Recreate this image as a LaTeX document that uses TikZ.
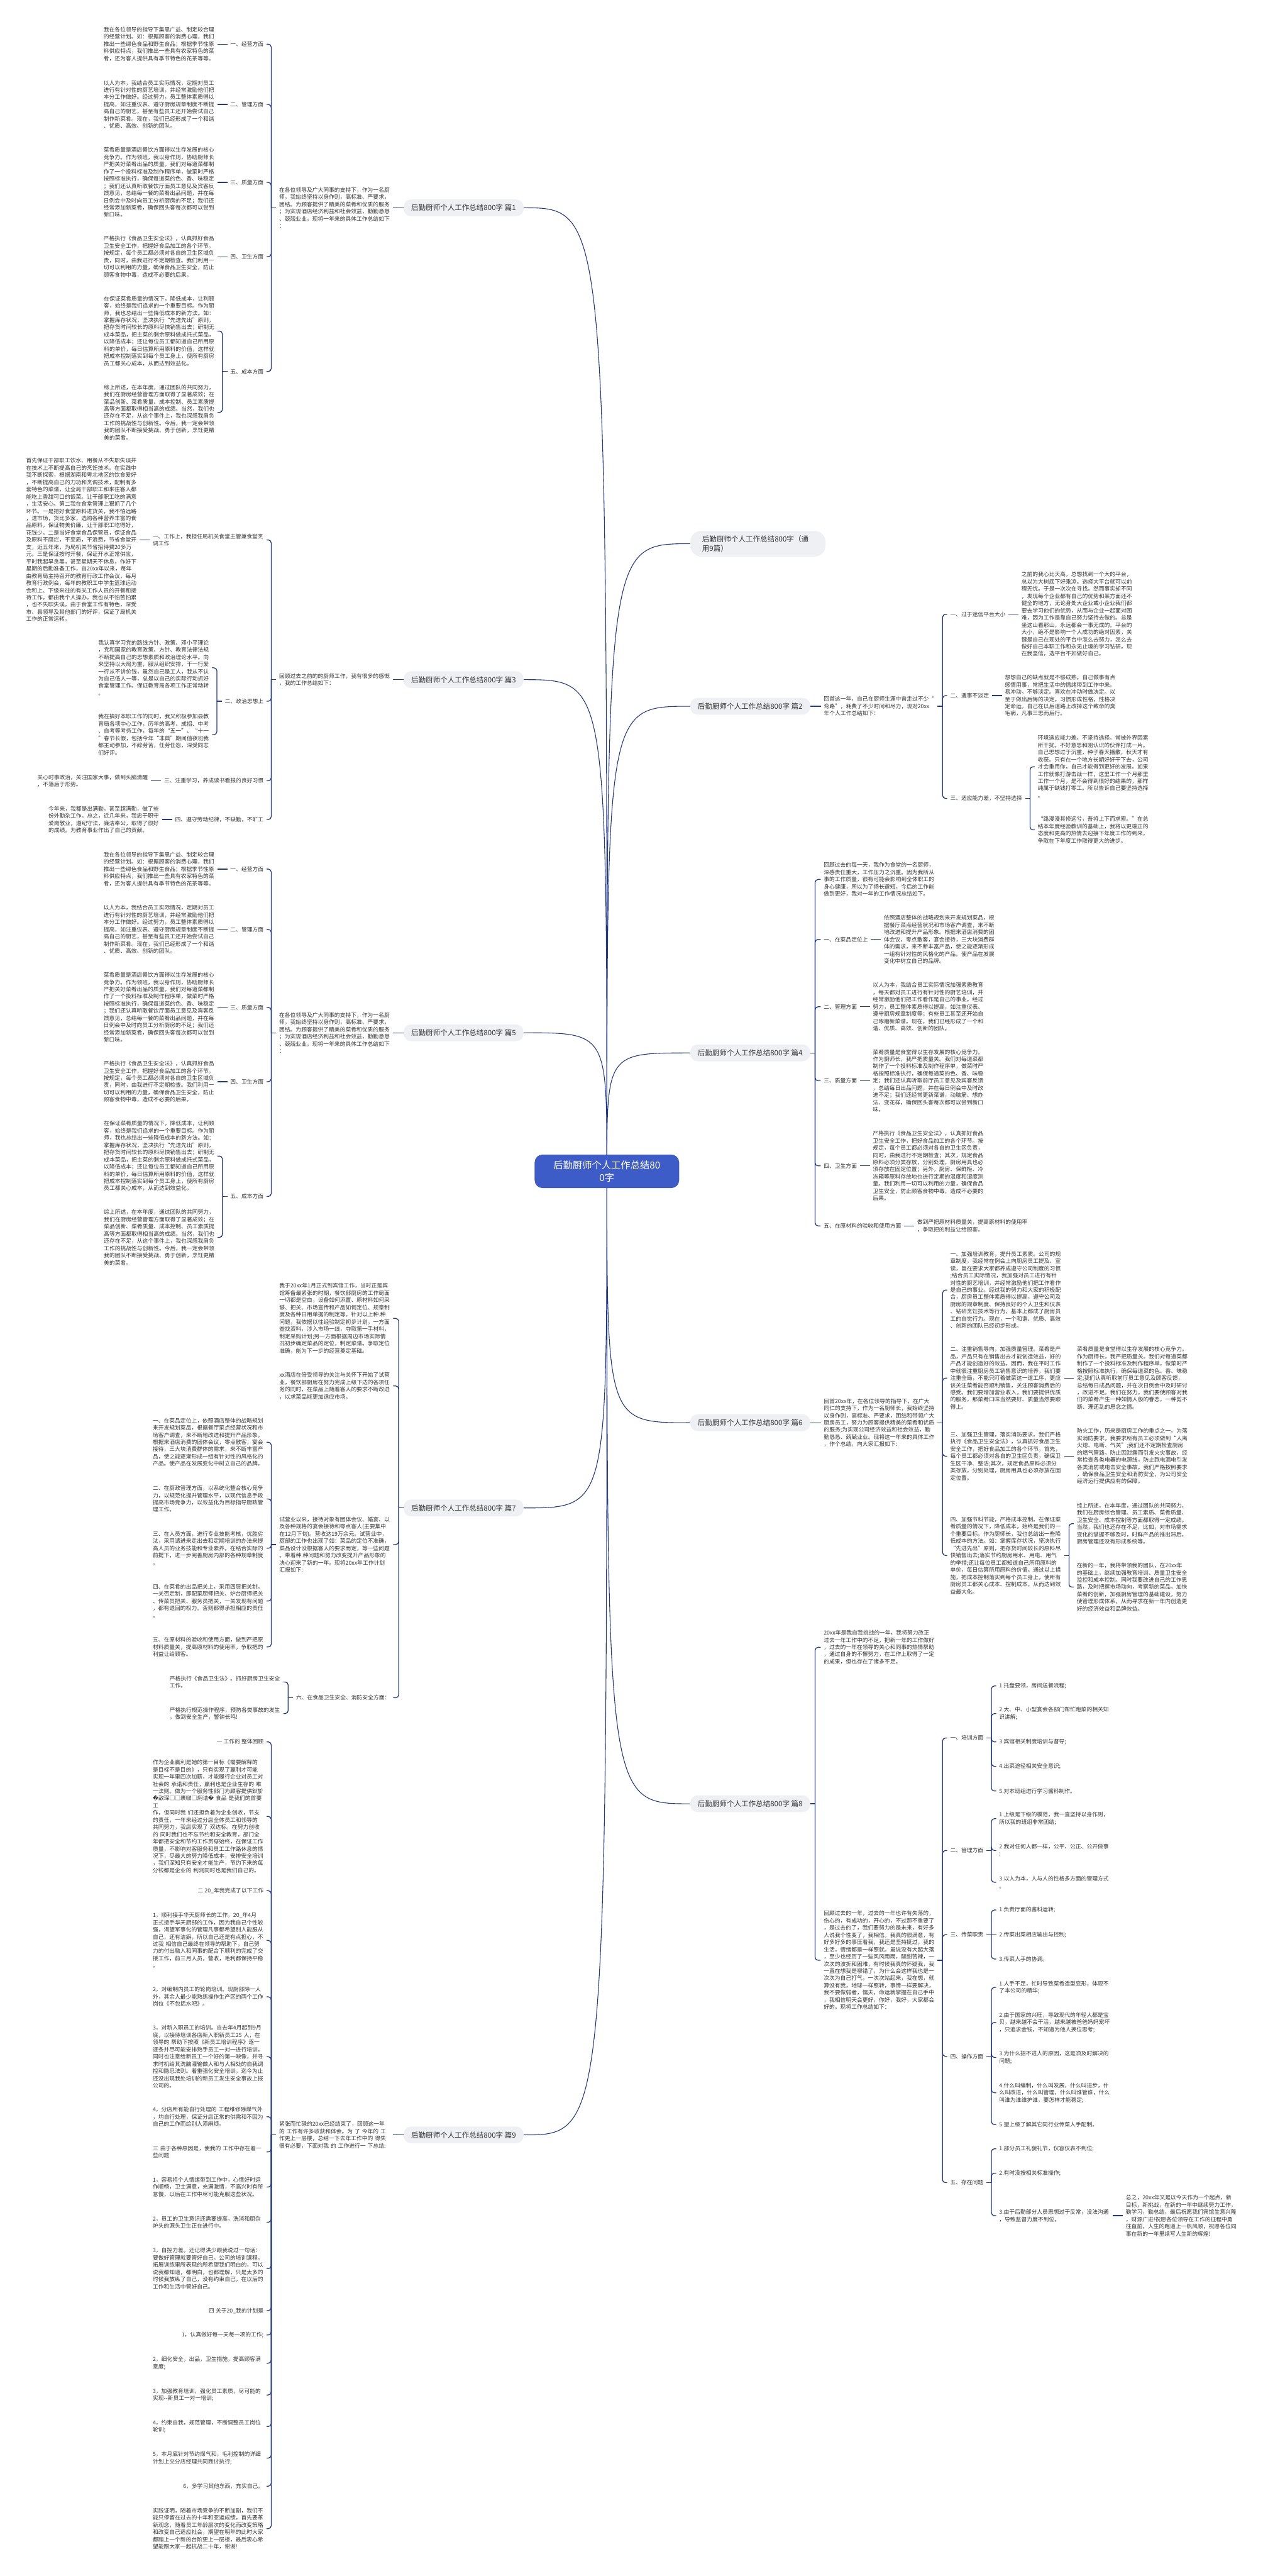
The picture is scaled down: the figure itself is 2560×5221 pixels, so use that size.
\documentclass[tikz,border=0pt]{standalone}
\usepackage{fontspec}
\setmainfont{Noto Sans CJK SC}
\newfontfamily\dejavu{DejaVu Sans}
\usetikzlibrary{positioning}

% allow a line break between any two CJK characters
\XeTeXinterchartokenstate=1
\newXeTeXintercharclass\cjkcls
\newcount\cjkcnt
\newcommand\cjkrange[2]{%
  \cjkcnt=#1\relax
  \loop
    \XeTeXcharclass\cjkcnt=\cjkcls
    \advance\cjkcnt by 1\relax
  \ifnum\cjkcnt<#2\relax
  \repeat}
\cjkrange{"2018}{"201E}
\cjkrange{"25A0}{"25A2}
\cjkrange{"3000}{"3040}
\cjkrange{"4E00}{"A000}
\cjkrange{"FF00}{"FFF0}
\XeTeXinterchartoks\cjkcls\cjkcls={\penalty0\relax}
\XeTeXinterchartoks 0 \cjkcls={\penalty0\relax}
\XeTeXinterchartoks\cjkcls 0 ={\penalty0\relax}

\definecolor{linkblue}{HTML}{22398A}
\definecolor{rootblue}{HTML}{3D5CC8}
\definecolor{topicgray}{HTML}{EEF0F4}
\definecolor{inkgray}{HTML}{333333}

\pgfdeclarelayer{bg}
\pgfsetlayers{bg,main}

\newcommand\fsbody{\fontsize{11.2pt}{14.6pt}\selectfont}
\newcommand\fstopic{\fontsize{14.7pt}{19pt}\selectfont}
\newcommand\fsroot{\fontsize{19.5pt}{26pt}\selectfont}

% connectors: stub out of the parent, then one elbow per child
\newcommand\lstub[1]{\draw[link] (#1.west) -- ++(-10pt,0);}
\newcommand\rstub[1]{\draw[link] (#1.east) -- ++(10pt,0);}
\newcommand\lk[2]{\draw[link] ([xshift=-10pt]#1.west) |- (#2.east);}
\newcommand\rk[2]{\draw[link] ([xshift=10pt]#1.east) |- (#2.west);}
\newcommand\lone[2]{\draw[link] (#1.west) -- (#2.east);}
\newcommand\rone[2]{\draw[link] (#1.east) -- (#2.west);}

% Pian 1 and Pian 5 carry the same text
\newcommand\paione[3]{%
\begin{scope}[shift={(0,#3)}]
  \node[topic] (#1t) at (940,421.2) {后勤厨师个人工作总结800字 #2};
  \node[body, left=21.5pt of #1t] (#1i) {在各位领导及广大同事的支持下，作为一名厨师，我始终坚持以身作则，高标准、严要求，团结。为顾客提供了精美的菜肴和优质的服务；为实现酒店经济利益和社会效益，勤勤恳恳、兢兢业业。现将一年来的具体工作总结如下：};
  \node[lbl, anchor=east] (#1a1) at (540.5,89.4) {一、经营方面};
  \node[lbl, anchor=east] (#1a2) at (540.5,211.7) {二、管理方面};
  \node[lbl, anchor=east] (#1a3) at (540.5,369.7) {三、质量方面};
  \node[lbl, anchor=east] (#1a4) at (540.5,520.3) {四、卫生方面};
  \node[lbl, anchor=east] (#1a5) at (540.5,753) {五、成本方面};
  \node[body, left=20pt of #1a1] (#1b1) {我在各位领导的指导下集思广益、制定较合理的经营计划。如：根据顾客的消费心理，我们推出一些绿色食品和野生食品；根据季节性原料供应特点，我们推出一些具有农家特色的菜肴，还为客人提供具有季节特色的花茶等等。};
  \node[body, left=20pt of #1a2] (#1b2) {以人为本，我结合员工实际情况，定期对员工进行有针对性的厨艺培训，并经常激励他们把本分工作做好。经过努力，员工整体素质得以提高，如注重仪表、遵守厨房规章制度不断提高自己的厨艺，甚至有些员工还开始尝试自己制作新菜肴。现在，我们已经形成了一个和谐、优质、高效、创新的团队。};
  \node[body, left=20pt of #1a3] (#1b3) {菜肴质量是酒店餐饮方面得以生存发展的核心竞争力。作为领班，我以身作则，协助厨师长严把关好菜肴出品的质量。我们对每道菜都制作了一个投料标准及制作程序单，做菜时严格按照标准执行，确保每道菜的色、香、味稳定；我们还认真听取餐饮厅面员工意见及宾客反馈意见，总结每一餐的菜肴出品问题，并在每日例会中及时向员工分析厨房的不足；我们还经常添加新菜肴，确保回头客每次都可以尝到新口味。};
  \node[body, left=20pt of #1a4] (#1b4) {严格执行《食品卫生安全法》，认真抓好食品卫生安全工作，把握好食品加工的各个环节。按规定，每个员工都必须对各自的卫生区域负责，同时，由我进行不定期检查。我们利用一切可以利用的力量，确保食品卫生安全，防止顾客食物中毒，造成不必要的后果。};
  \node[body, anchor=east] (#1b5a) at (441.3,671) {在保证菜肴质量的情况下，降低成本，让利顾客，始终是我们追求的一个重要目标。作为厨师，我也总结出一些降低成本的新方法。如：掌握库存状况，坚决执行“先进先出”原则，把存货时间较长的原料尽快销售出去；研制无成本菜品，把主菜的剩余原料做成托式菜品，以降低成本；还让每位员工都知道自己所用原料的单价，每日估算所用原料的价值，这样就把成本控制落实到每个员工身上，使所有厨房员工都关心成本，从而达到效益化。};
  \node[body, anchor=east] (#1b5b) at (441.3,836) {综上所述，在本年度，通过团队的共同努力，我们在厨房经营管理方面取得了显著成效；在菜品创新、菜肴质量、成本控制、员工素质提高等方面都取得相当高的成绩。当然，我们也还存在不足，从这个事件上，我也深感我肩负工作的挑战性与创新性。今后，我一定会带领我的团队不断接受挑战、勇于创新，烹饪更精美的菜肴。};
  \lone{#1t}{#1i}
  \lstub{#1i}
  \lk{#1i}{#1a1} \lk{#1i}{#1a2} \lk{#1i}{#1a3} \lk{#1i}{#1a4} \lk{#1i}{#1a5}
  \lone{#1a1}{#1b1} \lone{#1a2}{#1b2} \lone{#1a3}{#1b3} \lone{#1a4}{#1b4}
  \lstub{#1a5} \lk{#1a5}{#1b5a} \lk{#1a5}{#1b5b}
\end{scope}}

\begin{document}
\begin{tikzpicture}[x=1pt, y=-1pt,
  every node/.style={text=inkgray, font=\fsbody},
  body/.style={text width=224.5pt, align=left, inner xsep=6pt, inner ysep=2pt},
  lbl/.style={inner xsep=6pt, inner ysep=2pt},
  topic/.style={fill=topicgray, rounded corners=15pt, minimum width=243pt,
    minimum height=34pt, inner xsep=8pt, font=\fstopic},
  root/.style={fill=rootblue, text=white, rounded corners=16pt, text width=220pt,
    align=center, inner xsep=36.5pt, inner ysep=12pt, font=\fsroot},
  link/.style={draw=linkblue, line width=1.6pt, rounded corners=6pt},
  curve/.style={draw=linkblue, line width=1.4pt}]

  \begin{pgfonlayer}{bg}
    \fill[white] (0,0) rectangle (2560,5221);
  \end{pgfonlayer}
  \useasboundingbox (0,0) rectangle (2560,5221);

  % Centre
  \node[root] (root) at (1230.5,2374) {后勤厨师个人工作总结80\\0字};

  % Pian 1 and Pian 5
  \paione{p1}{篇1}{0}
  \paione{p5}{篇5}{1672}

  % Pian 3
  \node[topic] (p3t) at (940,1377.5) {后勤厨师个人工作总结800字 篇3};
  \node[body, left=21.5pt of p3t] (p3i) {回顾过去之前的的厨师工作，我有很多的感慨，我的工作总结如下：};
  \node[body, anchor=east] (p3g1) at (540.5,1094.3) {一、工作上，我担任局机关食堂主管兼食堂烹调工作};
  \node[lbl, anchor=east] (p3g2) at (540.5,1421.3) {二、政治思想上};
  \node[lbl, anchor=east] (p3g3) at (540.5,1582.5) {三、注重学习，养成读书看报的良好习惯};
  \node[lbl, anchor=east] (p3g4) at (540.5,1661) {四、遵守劳动纪律，不缺勤，不旷工};
  \node[body, left=20pt of p3g1] (p3h1) {首先保证干部职工饮水、用餐从不失职失误并在技术上不断提高自己的烹饪技术。在实践中我不断探索，根据湖南和粤北地区的饮食爱好，不断提高自己的刀功和烹调技术，配制有多套特色的菜谱，让全局干部职工和来往客人都能吃上香甜可口的饭菜。让干部职工吃的满意，生活安心。第二我在食堂管理上狠抓了几个环节。一是把好食堂原料进货关，我不怕远路，进市场，货比多家，选购各种营养丰富的食品原料，保证物美价廉，让干部职工吃得好，花钱少。二是当好食堂食品保管员，保证食品及原料不腐烂，不变质，不浪费，节省食堂开支，近五年来，为局机关节省招待费20多万元。三是保证按时开餐，保证开水正常供应，平时我起早贪黑，甚至星期天不休息，作好下星期的后勤准备工作，自20xx年以来，每年由教育局主持召开的教育行政工作会议，每月教育行政例会，每年的教职工中学生篮球运动会和上、下级来往的有关工作人员的开餐和接待工作，都由我个人操办。我也从不怕苦怕累，也不失职失误。由于食堂工作有特色，深受市、县领导及其他部门的好评，保证了局机关工作的正常运转。};
  \node[body, anchor=east] (p3h2a) at (430.1,1353.5) {我认真学习党的路线方针、政策、邓小平理论，党和国家的教育政策、方针、教育法律法规不断提高自己的思想素质和政治理论水平。向来坚持以大局为重，服从组织安排，干一行爱一行从不讲价钱，虽然自己是工人，我从不认为自己低人一等，总是以自己的实际行动抓好食堂管理工作。保证教育局各项工作正常动转。};
  \node[body, anchor=east] (p3h2b) at (430.1,1489) {我在搞好本职工作的同时，我又积极参加县教育局各项中心工作，历年的高考、成招、中考、自考等考务工作，每年的“五一”、“十一”春节长假，包括今年“非典”期间值夜班我都主动参加，不辞劳苦，任劳任怨，深受同志们好评。};
  \node[body, left=20pt of p3g3] (p3h3) {关心时事政治，关注国家大事，做到头脑清醒，不落后于形势。};
  \node[body, left=20pt of p3g4] (p3h4) {今年来，我都是出满勤，甚至超满勤，做了些份外勤杂工作。总之，近几年来，我忠于职守爱岗敬业，遵纪守法，廉洁奉公，取得了很好的成绩。为教育事业作出了自己的贡献。};
  \lone{p3t}{p3i}
  \lstub{p3i}
  \lk{p3i}{p3g1} \lk{p3i}{p3g2} \lk{p3i}{p3g3} \lk{p3i}{p3g4}
  \lone{p3g1}{p3h1} \lone{p3g3}{p3h3} \lone{p3g4}{p3h4}
  \lstub{p3g2} \lk{p3g2}{p3h2a} \lk{p3g2}{p3h2b}

  % Pian 7
  \node[topic] (p7t) at (940,3056.3) {后勤厨师个人工作总结800字 篇7};
  \node[body, anchor=east] (p7k1) at (797,2672) {我于20xx年1月正式到宾馆工作，当时正是宾馆筹备最紧张的时期，餐饮部厨房的工作局面一切都是空白，设备如何添置、原材料如何采够、把关、市场宣传和产品如何定位、规章制度及各种日用单据的制定等。针对以上种.种问题，我依据以往经验制定初步计划，一方面查找资料，涉入市场一线，夺取第一手材料，制定采购计划;另一方面根据周边市场实际情况初步确定菜品的定位，制定菜谱。争取定位准确，能为下一步的经营奠定基础。};
  \node[body, anchor=east] (p7k2) at (797,2809) {xx酒店在倍受领导的关注与关怀下开始了试营业，餐饮部厨房在努力完成上级下达的各项任务的同时，在菜品上随着客人的要求不断改进，以求菜品能更加适应市场。};
  \node[body, anchor=east] (p7k3) at (797,3130.5) {试营业以来，接待对象有团体会议、婚宴、以及各种规格的宴会接待和零点客人(主要集中在12月下旬)。营收达19万余元。试营业中，厨部的工作也出现了如：菜品的定位不准确，菜品设计没根据客人的要求而定，等一些问题。带着种.种问题和努力改变提升产品形象的决心迎来了新的一年。现将20xx年工作计划汇报如下:};
  \node[lbl, anchor=east] (p7k4) at (797,3441) {六、在食品卫生安全、消防安全方面：};
  \node[body, anchor=east] (p7m1) at (540.5,2923) {一、在菜品定位上，依照酒店整体的战略规划来开发规划菜品，根据餐厅菜点经营状况和市场客户调查，来不断地改进和提升产品形象。根据来酒店消费的团体会议，零点散客，宴会接待，三大块消费群体的需求，来不断丰富产品，使之能逐渐形成一组有针对性的风格化的产品。使产品在发展变化中树立自己的品牌。};
  \node[body, anchor=east] (p7m2) at (540.5,3038) {二、在厨政管理方面，以系统化整合核心竞争力，以规范化提升管理水平，以现代信息手段提高市场竞争力，以效益化为目标指导厨政管理工作。};
  \node[body, anchor=east] (p7m3) at (540.5,3138) {三、在人员方面，进行专业技能考核，优胜劣汰，采用请进来走出去和定期培训的办法来提高人员的业务技能和专业素养。在结合实际的前提下，进一步完善厨房内部的各种规章制度。};
  \node[body, anchor=east] (p7m4) at (540.5,3245) {四、在菜肴的出品把关上，采用四层把关制，一关否定制，即配菜厨师把关、炉台厨师把关、传菜员把关、服务员把关，一关发现有问题，都有退回的权力。否则都得承担相应的责任。};
  \node[body, anchor=east] (p7m5) at (540.5,3338) {五、在原材料的验收和使用方面，做到严把原材料质量关，提高原材料的使用率，争取把的利益让给顾客。};
  \node[body, anchor=east] (p7n1) at (574.6,3409) {严格执行《食品卫生法》。抓好厨房卫生安全工作。};
  \node[body, anchor=east] (p7n2) at (574.6,3473) {严格执行规范操作程序，预防各类事故的发生，做到安全生产，警钟长鸣!};
  \lstub{p7t}
  \lk{p7t}{p7k1} \lk{p7t}{p7k2} \lk{p7t}{p7k3} \lk{p7t}{p7k4}
  \lstub{p7k3}
  \lk{p7k3}{p7m1} \lk{p7k3}{p7m2} \lk{p7k3}{p7m3} \lk{p7k3}{p7m4} \lk{p7k3}{p7m5}
  \lstub{p7k4} \lk{p7k4}{p7n1} \lk{p7k4}{p7n2}

  % Pian 9
  \node[topic] (p9t) at (940,4327) {后勤厨师个人工作总结800字 篇9};
  \node[body, left=21.5pt of p9t] (p9i) {紧张而忙碌的20xx已经结束了，回顾这一年\\的 工作有许多收获和体会。为 了 今年的 工\\作更上一层楼，总结一下去年工作中的 得失\\很有必要，下面对我 的 工作进行一 下总结:};
  \node[lbl, anchor=east] (p9q1) at (540.5,3530.3) {一 工作的 整体回顾};
  \node[body, anchor=east] (p9q2) at (540.5,3681.4) {作为企业赢利是她的第一目标《需要解释的\\是目标不是目的》，只有实现了赢利才可能\\实现一年里四次加薪，才能履行企业对员工对\\社会的 承诺和责任，赢利也是企业生存的 唯\\一法则。做为一个服务性部门为顾客提供鈥斺\\{\dejavu �}敌琛□□裹啵□焖诘{\dejavu �} 食品 是我们的首要工\\作，但同时我 们还担负着为企业创收，节支\\的责任，一年来经过分店全体员工和领导的\\共同努力，我店实现了 双达标。在努力创收\\的 同时我们也不忘节约和安全教育，部门全\\年都把安全和节约工作贯穿始终，在保证工作\\质量，不影响对客服务和员工工作路休息的情\\况下，尽最大的努力降低成本，安排安全培训\\，我们深知只有安全才能生产，节约下来的每\\分钱都是企业的 利润同时也是我们自己的。};
  \node[lbl, anchor=east] (p9q3) at (540.5,3832) {二 20\_年我完成了以下工作};
  \node[body, anchor=east] (p9q4) at (540.5,3932.7) {1，顺利接手华天厨师长的工作。20\_年4月\\正式接手华天厨部的工作，因为我自己个性较\\强，渴望军事化的管理凡事都希望别人能服从\\自己，还有洁癖，所以自己还是有点担心，不\\过我 相信自己最终在领导的帮助下，自己努\\力的付出融入和同事的配合下顺利的完成了交\\接工作，前三月人员，营收，毛利都保持平稳\\。};
  \node[body, anchor=east] (p9q5) at (540.5,4047) {2，对编制内员工的轮岗培训。现厨部除一人外，其余人最少能熟练操作生产区的两个工作岗位《不包括水吧》。};
  \node[body, anchor=east] (p9q6) at (540.5,4168.5) {3，对新入职员工的培训。自去年4月起到9月\\底，以接待培训各店新入职新员工25 人，在\\领导的 帮助下按照《新员工培训程序》逐一\\逐条并尽可能安排熟手员工一对一进行培训，\\同时也注意给新员工一个好的第一映像，并寻\\求时机给其洗脑灌输做人和与人相处的自我调\\控和隐忍法则。着重强化安全培训，迄今为止\\还没出现我处培训的新员工发生安全事故上报\\公司的。};
  \node[body, anchor=east] (p9q7) at (540.5,4290) {4，分店所有能自行处理的 工程维修除煤气外\\，均自行处理，保证分店正常的供需和不因为\\自己的工作而给别人添麻烦。};
  \node[body, anchor=east] (p9q8) at (540.5,4361.4) {三 由于各种原因是，使我的 工作中存在着一\\些问题};
  \node[body, anchor=east] (p9q9) at (540.5,4432.7) {1，容易将个人情绪带到工作中，心情好时运作顺畅，卫士满意，充满激情，不高兴时有所怠慢，以后在工作中尽可能克服这些状况。};
  \node[body, anchor=east] (p9q10) at (540.5,4504) {2，员工的卫生意识还需要提高，洗消和厨杂炉头的源头卫生正在进行中。};
  \node[body, anchor=east] (p9q11) at (540.5,4598) {3，自控力差。还记得洪少跟我说过一句话：要做好管理就要管好自己。公司的培训课程，拓展训练里所表现的所希望我们明白的，可以说我都知道，都明白，也都理解，只是太多的时候我放纵了自己，没有约束自己，在以后的工作和生活中管好自己。};
  \node[lbl, anchor=east] (p9q12) at (540.5,4683) {四 关于20\_我的计划是};
  \node[lbl, anchor=east] (p9q13) at (540.5,4732.5) {1，认真做好每一天每一项的工作;};
  \node[body, anchor=east] (p9q14) at (540.5,4789.7) {2，细化安全，出品，卫生措施，提高顾客满意度;};
  \node[body, anchor=east] (p9q15) at (540.5,4854) {3，加强教育培训，强化员工素质，尽可能的实现-{}-新员工一对一培训;};
  \node[body, anchor=east] (p9q16) at (540.5,4918) {4，约束自我，规范管理，不断调整员工岗位轮训;};
  \node[body, anchor=east] (p9q17) at (540.5,4982) {5，本月底针对节约煤气和，毛利控制的详细计划上交分店经理共同商讨执行;};
  \node[lbl, anchor=east] (p9q18) at (540.5,5039) {6，多学习其他东西，充实自己。};
  \node[body, anchor=east] (p9q19) at (540.5,5125) {实践证明，随着市场竞争的不断加剧，我们不能只停留在过去的十年和亚运成绩，首先要革新观念，随着员工年龄层次的变化而改变策略和改变自己适应社会，期望在明年的此时大家都踏上一个新的台阶更上一层楼，最后衷心希望能跟大家一起抗战二十年，谢谢!};
  \lone{p9t}{p9i}
  \lstub{p9i}
  \lk{p9i}{p9q1} \lk{p9i}{p9q2} \lk{p9i}{p9q3} \lk{p9i}{p9q4} \lk{p9i}{p9q5}
  \lk{p9i}{p9q6} \lk{p9i}{p9q7} \lk{p9i}{p9q8} \lk{p9i}{p9q9} \lk{p9i}{p9q10}
  \lk{p9i}{p9q11} \lk{p9i}{p9q12} \lk{p9i}{p9q13} \lk{p9i}{p9q14} \lk{p9i}{p9q15}
  \lk{p9i}{p9q16} \lk{p9i}{p9q17} \lk{p9i}{p9q18} \lk{p9i}{p9q19}

  % Tong yong 9 pian
  \node[topic, anchor=west, text width=226pt, inner xsep=24pt, minimum height=52pt,
    rounded corners=22pt, align=left] (pg) at (1399.5,1102) {后勤厨师个人工作总结800字（通\\用9篇）};

  % Pian 2
  \node[topic] (p2t) at (1521,1431.5) {后勤厨师个人工作总结800字 篇2};
  \node[body, right=21.5pt of p2t] (p2i) {回首这一年，自己在厨师生涯中曾走过不少“弯路”，耗费了不少时间和尽力，现对20xx年个人工作总结如下：};
  \node[lbl, anchor=west] (p2a) at (1920.5,1245) {一、过于迷信平台大小};
  \node[lbl, anchor=west] (p2b) at (1920.5,1409.8) {二、遇事不淡定};
  \node[lbl, anchor=west] (p2c) at (1920.5,1618.3) {三、适应能力差，不坚持选择};
  \node[body, right=20pt of p2a] (p2at) {之前的我心比天高，总想找到一个大的平台，总以为大树底下好乘凉。选择大平台就可以前程无忧。于是一次次在寻找。然而事实却不同，发现每个企业都有自己的优势和某方面还不健全的地方，无论身处大企业或小企业我们都要去学习他们的优势，从而与企业一起面对困难，因为工作是靠自己努力坚持去做的。总是坐这山看那山，永远都会一事无成的。平台的大小，绝不是影响一个人成功的绝对因素，关键是自己在现处的平台中怎么去努力，怎么去做好自己本职工作和永无止境的学习钻研。现在我坚信，选平台不如做好自己。};
  \node[body, right=20pt of p2b] (p2bt) {想想自己的缺点就是不够成熟。自己做事有点感情用事，常把生活中的情绪带到工作中来。易冲动，不够淡定。喜欢在冲动时做决定。以至于做出后悔的决定。习惯形成性格，性格决定命运。自己在以后道路上改掉这个致命的臭毛病，凡事三思而后行。};
  \node[body, anchor=west] (p2c1) at (2098.1,1554) {环境适应能力差。不坚持选择。常被外界因素所干扰。不好意思和刚认识的伙伴打成一片。自己思想过于沉重，种子春天播散，秋天才有收获。只有在一个地方长期好好干下去，公司才会重用你，自己才能得到更好的发展。如果工作就像打游击战一样，这里工作一个月那里工作一个月，是不会得到很好的结果的，那样纯属于缺钱打零工。所以告诉自己要坚持选择。};
  \node[body, anchor=west] (p2c2) at (2098.1,1682) {“路漫漫其修远兮，吾将上下而求索。”在总结本年度经验教训的基础上，我将以更端正的态度和更高的热情去迎接下年度工作的到来，争取在下年度工作取得更大的进步。};
  \rone{p2t}{p2i}
  \rstub{p2i}
  \rk{p2i}{p2a} \rk{p2i}{p2b} \rk{p2i}{p2c}
  \rone{p2a}{p2at} \rone{p2b}{p2bt}
  \rstub{p2c} \rk{p2c}{p2c1} \rk{p2c}{p2c2}

  % Pian 4
  \node[topic] (p4t) at (1521,2134) {后勤厨师个人工作总结800字 篇4};
  \node[body, anchor=west] (p4d0) at (1664,1782.4) {回顾过去的每一天，我作为食堂的一名厨师，深感责任重大，工作压力之沉重。因为我所从事的工作质量，很有可能会影响到全体职工的身心健康，所以为了扬长避短，今后的工作能做到更好，我对一年的工作情况总结如下。};
  \node[lbl, anchor=west] (p4d1) at (1664,1904) {一、在菜品定位上};
  \node[lbl, anchor=west] (p4d2) at (1664,2040.4) {二、管理方面};
  \node[lbl, anchor=west] (p4d3) at (1664,2190.5) {三、质量方面};
  \node[lbl, anchor=west] (p4d4) at (1664,2363) {四、卫生方面};
  \node[lbl, anchor=west] (p4d5) at (1664,2484.5) {五、在原材料的验收和使用方面};
  \node[body, right=20pt of p4d1] (p4e1) {依照酒店整体的战略规划来开发规划菜品，根据餐厅菜点经营状况和市场客户调查，来不断地改进和提升产品形象。根据来酒店消费的团体会议，零点散客，宴会接待，三大块消费群体的需求，来不断丰富产品，使之能逐渐形成一组有针对性的风格化的产品。使产品在发展变化中树立自己的品牌。};
  \node[body, right=20pt of p4d2] (p4e2) {以人为本，我结合员工实际情况加强素质教育，每天都对员工进行有针对性的厨艺培训，并经常激励他们把工作看作是自己的事业。经过努力，员工整体素质得以提高，如注重仪表、遵守厨房规章制度等；有些员工甚至还开始自己琢磨新菜谱。现在，我们已经形成了一个和谐、优质、高效、创新的团队。};
  \node[body, right=20pt of p4d3] (p4e3) {菜肴质量是食堂得以生存发展的核心竞争力。作为厨师长，我严把质量关。我们对每道菜都制作了一个投料标准及制作程序单，做菜时严格按照标准执行，确保每道菜的色、香、味稳定；我们还认真听取前厅员工意见及宾客反馈，总结每日出品问题，并在每日例会中及时改进不足；我们还经常更新菜谱，动脑筋、想办法、变花样，确保回头客每次都可以尝到新口味。};
  \node[body, right=20pt of p4d4] (p4e4) {严格执行《食品卫生安全法》，认真抓好食品卫生安全工作，把好食品加工的各个环节。按规定，每个员工都必须对各自的卫生区负责，同时，由我进行不定期检查；其次，规定食品原料必须分类存放，分别处理，厨房用具也必须存放在固定位置；另外，厨房、保鲜柜、冷冻箱等原料存放地也进行定期的温度和湿度测量。我们利用一切可以利用的力量，确保食品卫生安全，防止顾客食物中毒，造成不必要的后果。};
  \node[body, right=20pt of p4d5] (p4e5) {做到严把原材料质量关，提高原材料的使用率，争取把的利益让给顾客。};
  \rstub{p4t}
  \rk{p4t}{p4d0} \rk{p4t}{p4d1} \rk{p4t}{p4d2} \rk{p4t}{p4d3} \rk{p4t}{p4d4} \rk{p4t}{p4d5}
  \rone{p4d1}{p4e1} \rone{p4d2}{p4e2} \rone{p4d3}{p4e3} \rone{p4d4}{p4e4} \rone{p4d5}{p4e5}

  % Pian 6
  \node[topic] (p6t) at (1521,2883.5) {后勤厨师个人工作总结800字 篇6};
  \node[body, right=21.5pt of p6t] (p6i) {回首20xx年，在各位领导的指导下，在广大同仁的支持下，作为一名厨师长，我始终坚持以身作则，高标准、严要求，团结和带领广大厨房员工，努力为顾客提供精美的菜肴和优质的服务;为实现公司经济效益和社会效益，勤勤恳恳、兢兢业业。现将这一年来的具体工作，作个总结，向大家汇报如下:};
  \node[body, anchor=west] (p6a) at (1920.5,2614.5) {一、加强培训教育，提升员工素质。公司的规章制度，我经常在例会上向厨房员工提及、宣读，旨在要求大家都养成遵守公司制度的习惯;结合员工实际情况，我加强对员工进行有针对性的厨艺培训，并经常激励他们把工作看作是自己的事业。经过我的努力和大家的积极配合，厨房员工整体素质得以提高，遵守公司及厨房的规章制度、保持良好的个人卫生和仪表、钻研烹饪技术等行为，基本上都成了厨房员工的自觉行为。现在，一个和谐、优质、高效、创新的团队已经初步形成。};
  \node[body, anchor=west] (p6b) at (1920.5,2793) {二、注重销售导向，加强质量管理。菜肴是产品，产品只有在销售出去才能创造效益，好的产品才能创造好的效益。因而，我在平时工作中就很注重厨房员工销售意识的培养，我们要注重全局，不能只盯着做菜这一道工序，更应该关注菜肴能否顺利销售，关注顾客消费后的感受。我们要增加营业收入，我们要提供优质的服务，那菜肴口味当然要好、质量当然要跟得上。};
  \node[body, anchor=west] (p6c) at (1920.5,2951.5) {三、加强卫生管理，落实消防要求。我们严格执行《食品卫生安全法》，认真抓好食品卫生安全工作，把好食品加工的各个环节。首先，每个员工都必须对各自的卫生区负责，确保卫生区干净、整洁;其次，规定食品原料必须分类存放，分别处理，厨房用具也必须存放在固定位置。};
  \node[body, anchor=west] (p6d) at (1920.5,3152.7) {四、加强节料节能，严格成本控制。在保证菜肴质量的情况下，降低成本，始终是我们的一个重要目标。作为厨师长，我也总结出一些降低成本的方法。如：掌握库存状况，坚决执行“先进先出”原则，把存货时间较长的原料尽快销售出去;落实节约厨房用水、用电、用气的举措;还让每位员工都知道自己所用原料的单价，每日估算所用原料的价值。通过以上措施，把成本控制落实到每个员工身上，使所有厨房员工都关心成本、控制成本，从而达到效益最大化。};
  \node[body, right=20pt of p6b] (p6bt) {菜肴质量是食堂得以生存发展的核心竞争力。作为厨师长，我严把质量关。我们对每道菜都制作了一个投料标准及制作程序单，做菜时严格按照标准执行，确保每道菜的色、香、味稳定;我们认真听取前厅员工意见及顾客反馈，总结每日成品问题，并在次日例会中及时研讨，改进不足。我们在努力，我们要使顾客对我们的菜肴产生一种如情人般的眷恋，一种剪不断、理还乱的思念之情。};
  \node[body, right=20pt of p6c] (p6ct) {防火工作，历来是厨房工作的重点之一。为落实消防要求，我要求所有员工必须做到“人离火熄、电断、气关”;我们还不定期检查厨房的燃气管路，防止因泄露而引发火灾事故，经常检查各类电器的电源线，防止跑电漏电引发各类消防或电击安全事故。我们严格按照要求，确保食品卫生安全和消防安全，为公司安全经济运行提供应有的保障。};
  \node[body, anchor=west] (p6d1) at (2177,3088) {综上所述，在本年度，通过团队的共同努力，我们在厨房综合管理、员工素质、菜肴质量、卫生安全、成本控制等方面都取得一定成绩。当然，我们也还存在不足，比如，对市场需求变化的掌握不够及时，时鲜产品的推出滞后，厨房管理还没有形成系统等。};
  \node[body, anchor=west] (p6d2) at (2177,3216.7) {在新的一年，我将带领我的团队，在20xx年的基础上，继续加强教育培训、质量卫生安全监控和成本控制。同时我要改进自己的工作思路，及时把握市场动向，考察新的菜品，加快菜肴的创新，加强厨房管理的基础建设，努力使管理形成体系，从而寻求在新一年内创造更好的经济效益和品牌效益。};
  \rone{p6t}{p6i}
  \rstub{p6i}
  \rk{p6i}{p6a} \rk{p6i}{p6b} \rk{p6i}{p6c} \rk{p6i}{p6d}
  \rone{p6b}{p6bt} \rone{p6c}{p6ct}
  \rstub{p6d} \rk{p6d}{p6d1} \rk{p6d}{p6d2}

  % Pian 8
  \node[topic] (p8t) at (1521,3655.8) {后勤厨师个人工作总结800字 篇8};
  \node[body, anchor=west] (p8u1) at (1664,3338.6) {20xx年是我自我挑战的一年，我将努力改正过去一年工作中的不足，把新一年的工作做好，过去的一年在领导的关心和同事的热情帮助，通过自身的不懈努力，在工作上取得了一定的成果，但也存在了诸多不足。};
  \node[body, anchor=west] (p8u2) at (1664,3973) {回顾过去的一年，过去的一年也许有失落的，伤心的，有成功的，开心的，不过那不重要了，是过去的了，我们要努力的是未来，有好多人说我个性变了，我相信。我真的很满意，有好多好多的事压着我，我还是坚持挺过，我的生活，情绪都是一样照就。虽说没有大起大落，至少也经历了一些风风雨雨，酸甜苦辣，一次次的波折和困难，有时候我真的怀疑我，我一直在想我是哪错了，为什么会这样我也是一次次为自己打气，一次次站起来，我在想，就算没有我，地球一样照转，事情一样要解决，我不要做弱者，懦夫，命运就掌握在自己手中，我相信明天会更好，你好，我好，大家都会好的。现将工作总结如下：};
  \node[lbl, anchor=west] (p8v1) at (1920.5,3522.6) {一、培训方面};
  \node[lbl, anchor=west] (p8v2) at (1920.5,3750.5) {二、管理方面};
  \node[lbl, anchor=west] (p8v3) at (1920.5,3921) {三、传菜职责};
  \node[lbl, anchor=west] (p8v4) at (1920.5,4167.7) {四、操作方面};
  \node[lbl, anchor=west] (p8v5) at (1920.5,4423.8) {五、存在问题};
  \node[lbl, anchor=west] (p8w11) at (2019.7,3417) {1.托盘要领，房间送餐流程;};
  \node[body, anchor=west] (p8w12) at (2019.7,3473) {2.大、中、小型宴会各部门帮忙跑菜的相关知识讲解;};
  \node[lbl, anchor=west] (p8w13) at (2019.7,3530.5) {3.宾馆相关制度培训与督导;};
  \node[lbl, anchor=west] (p8w14) at (2019.7,3580) {4.出菜途径相关安全意识;};
  \node[lbl, anchor=west] (p8w15) at (2019.7,3630) {5.对本班组进行学习酱料制作。};
  \node[body, anchor=west] (p8w21) at (2019.7,3686) {1.上级是下级的模范，我一直坚持以身作则，所以我的班组非常团结;};
  \node[body, anchor=west] (p8w22) at (2019.7,3750.5) {2.我对任何人都一样，公平、公正、公开做事;};
  \node[body, anchor=west] (p8w23) at (2019.7,3815) {3.以人为本，人与人的性格多方面的管理方式。};
  \node[lbl, anchor=west] (p8w31) at (2019.7,3871) {1.负责厅面的酱料运转;};
  \node[lbl, anchor=west] (p8w32) at (2019.7,3921) {2.传菜出菜相应输出与控制;};
  \node[lbl, anchor=west] (p8w33) at (2019.7,3970.5) {3.传菜人手的协调。};
  \node[body, anchor=west] (p8w41) at (2019.7,4028) {1.人手不足，忙时导致菜肴造型变形，体现不了本公司的精华;};
  \node[body, anchor=west] (p8w42) at (2019.7,4099) {2.由于国家的兴旺，导致现代的年轻人都是宝贝，越来越不会干活，越来越被爸爸妈妈宠坏，只追求金钱，不知道为他人换位思考;};
  \node[body, anchor=west] (p8w43) at (2019.7,4170) {3.为什么招不进人的原因，这是须及时解决的问题;};
  \node[body, anchor=west] (p8w44) at (2019.7,4241.6) {4.什么叫编制，什么叫发展，什么叫进步，什么叫改进，什么叫管理，什么叫谁管谁，什么叫谁为谁维护谁，要怎样才能稳定;};
  \node[lbl, anchor=west] (p8w45) at (2019.7,4306) {5.望上级了解其它同行业传菜人手配制。};
  \node[lbl, anchor=west] (p8w51) at (2019.7,4355) {1.部分员工礼貌礼节，仪容仪表不到位;};
  \node[lbl, anchor=west] (p8w52) at (2019.7,4404.5) {2.有时没按相关标准操作;};
  \node[body, anchor=west] (p8w53) at (2019.7,4490.7) {3.由于后勤部分人员思想过于反常，没法沟通，导致监督力度不到位。};
  \node[body, right=20pt of p8w53] (p8w6) {总之，20xx年又是以今天作为一个起点，新目标，新挑战，在新的一年中继续努力工作，勤学习，勤总结，最后祝愿我们宾馆生意兴隆，财源广进!祝愿各位领导在工作的征程中勇往直前，人生的跑道上一帆风顺，祝愿各位同事在新的一年里续写人生新的辉煌!};
  \rstub{p8t} \rk{p8t}{p8u1} \rk{p8t}{p8u2}
  \rstub{p8u2}
  \rk{p8u2}{p8v1} \rk{p8u2}{p8v2} \rk{p8u2}{p8v3} \rk{p8u2}{p8v4} \rk{p8u2}{p8v5}
  \rstub{p8v1}
  \rk{p8v1}{p8w11} \rk{p8v1}{p8w12} \rk{p8v1}{p8w13} \rk{p8v1}{p8w14} \rk{p8v1}{p8w15}
  \rstub{p8v2} \rk{p8v2}{p8w21} \rk{p8v2}{p8w22} \rk{p8v2}{p8w23}
  \rstub{p8v3} \rk{p8v3}{p8w31} \rone{p8v3}{p8w32} \rk{p8v3}{p8w33}
  \rstub{p8v4}
  \rk{p8v4}{p8w41} \rk{p8v4}{p8w42} \rk{p8v4}{p8w43} \rk{p8v4}{p8w44} \rk{p8v4}{p8w45}
  \rstub{p8v5} \rk{p8v5}{p8w51} \rk{p8v5}{p8w52} \rk{p8v5}{p8w53}
  \rone{p8w53}{p8w6}

  % curves from the centre to every topic
  \begin{pgfonlayer}{bg}
    \draw[curve] (root.center) .. controls (root.center |- p1t.east) .. (p1t.east);
    \draw[curve] (root.center) .. controls (root.center |- p3t.east) .. (p3t.east);
    \draw[curve] (root.center) .. controls (root.center |- p5t.east) .. (p5t.east);
    \draw[curve] (root.center) .. controls (root.center |- p7t.east) .. (p7t.east);
    \draw[curve] (root.center) .. controls (root.center |- p9t.east) .. (p9t.east);
    \draw[curve] (root.center) .. controls (root.center |- pg.west) .. (pg.west);
    \draw[curve] (root.center) .. controls (root.center |- p2t.west) .. (p2t.west);
    \draw[curve] (root.center) .. controls (root.center |- p4t.west) .. (p4t.west);
    \draw[curve] (root.center) .. controls (root.center |- p6t.west) .. (p6t.west);
    \draw[curve] (root.center) .. controls (root.center |- p8t.west) .. (p8t.west);
  \end{pgfonlayer}
\end{tikzpicture}
\end{document}
